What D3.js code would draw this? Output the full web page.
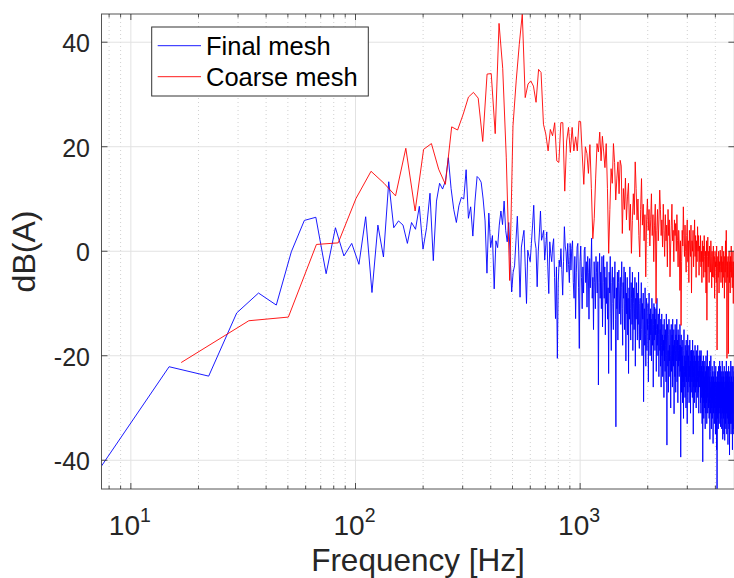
<!DOCTYPE html>
<html>
<head>
<meta charset="utf-8">
<script src="https://cdn.jsdelivr.net/npm/d3@7"></script>
<style>
  html, body { margin: 0; padding: 0; background: #fff; }
  svg { display: block; font-family: "Liberation Sans", Arial, Helvetica, sans-serif; }
</style>
</head>
<body>
<svg id="chart" width="734" height="578"></svg>
<script>
// Spectrum of the A-weighted level for the two meshes.
const seriesNames = ["Final mesh", "Coarse mesh"];
const seriesColors = ["#0000ff", "#ff0000"];

// Frequency resolution of each spectrum (Hz); bin k sits at k * step.
const fineStep = 7.4;
const coarseStep = 16.75;

// dB(A) per frequency bin, final mesh
const fineLevels = [
  -41.1, -22.1, -23.9, -11.8, -8.0, -10.3, -0.1, 5.9, 6.5, -4.3,
  4.5, -0.9, 1.5, -2.5, 6.6, -7.9, 5.0, -1.1, 13.3, 4.5,
  5.8, 5.0, 1.5, 5.5, 4.2, 8.6, 0.4, 4.5, 11.1, -1.8,
  9.6, 13.0, 11.9, 13.5, 17.9, 12.0, 8.0, 5.5, 8.7, 10.3,
  10.0, 15.6, 6.3, 8.5, 2.9, 9.6, 14.3, 13.9, 13.2, 10.0,
  5.8, -4.2, 7.3, 0.7, 3.0, -7.2, 2.0, 0.7, 5.0, 7.7,
  5.1, 9.6, 4.0, 1.8, 5.5, -1.0, -7.8, -4.0, -2.8, 2.0,
  6.7, 0.0, -8.8, 0.8, 2.5, 4.0, -3.0, -10.0, 0.2, -1.0,
  -2.0, 1.5, 5.0, 8.8, 2.0, 0.5, -6.8, 0.0, 3.5, 7.7,
  2.1, 3.0, 4.0, -1.7, 1.0, 3.7, -3.0, -8.1, 1.8, -0.5,
  -2.0, 1.0, 2.4, -5.0, -12.9, -3.0, -20.5, -6.0, -1.7, -3.0,
  0.5, -3.5, -8.4, -2.0, 4.7, 1.0, -0.1, -4.0, 1.5, -2.5,
  -6.0, 1.5,
  -3.6, 0.5, 2.0, -6, -9, -1, -12.9, -4, 0.8, 1.5,
  -7, -18.6, -2, 1.0, -5, -11, -3, -8, 0.2, 0.8,
  -6, -2, -10.7, -1, -4, -13, -1.4, -7, -3, 2.5,
  -9, -5, -15, -2, -6, -11, -1, -4, -8, -2,
  -25.6, -6, -0.4, -9,
  -4, -11, -1, -14.5, -6, -0.8, -9, -3, -16, -5,
  -10, -2, -13, -7, -23.4, -4, -8, -1, -12, -19,
  -6, -3, -10, -15, -5, -9, -2, -13, -33.6, -7,
  -11, -4, -17, -6, -3.6, -12, -8,
  -5, -14, -7, -2, -11, -18, -6, -9, -3, -15,
  -10, -4, -21, -8, -12, -5, -16, -9, -23.4, -7,
  -13, -3, -11, -17, -6, -9, -14, -4, -19, -10,
  -7, -15, -12, -5, -22, -9, -13, -6, -11, -17,
  -8, -14, -4, -16, -18.6, -10,
  -9, -17, -12, -6, -15, -20, -10, -13, -8, -28.8,
  -14, -11, -18, -7, -16, -22, -12, -9, -19, -13,
  -15, -10, -25, -14, -8, -17, -12, -20, -11, -16,
  -13, -21, -9, -15, -18, -12, -26, -14, -10, -17,
  -10.7, -19, -13, -16, -11, -23, -15, -9, -18, -14,
  -20, -12, -16, -24, -13, -11, -19,
  -15, -22, -13, -26, -18, -12, -20, -16, -24, -14,
  -19, -17, -28, -13, -21, -16, -23, -15, -18, -25,
  -12, -20, -37.1, -17, -14, -22, -19, -27, -16, -13,
  -21, -18, -24, -15, -20, -30, -17, -14, -23, -19,
  -16, -26, -13, -21, -18, -22, -15, -31.1, -20, -17,
  -24, -14, -19, -27, -16, -21, -18, -13, -25, -20,
  -17, -29, -15, -22, -19, -16, -24, -18, -21, -14,
  -23, -18, -39.4, -21, -16, -27, -18.3, -24, -20, -29,
  -17, -25, -22, -32, -19, -15, -26, -23, -20, -28,
  -18, -24, -21, -30, -17, -25, -22, -19, -33, -21,
  -16, -27, -23, -20, -25, -18, -29, -22, -24, -17,
  -26, -21, -31, -19, -23, -27, -18.9, -22, -25, -20,
  -28, -17, -24, -21, -35, -23, -19, -26, -22, -29,
  -20, -25, -18, -24, -27, -21, -23, -30, -19, -26,
  -22, -20, -28, -24, -18, -25, -21, -27, -23, -31,
  -20, -24, -22, -26, -19,
  -24, -20, -29, -23, -31, -19, -26, -22, -28, -25,
  -33, -21, -27, -40.3, -23, -29, -20, -26, -32, -22,
  -28, -24, -30, -21, -27, -34, -23, -25, -31, -20,
  -26, -29, -22, -33, -24, -28, -19, -27, -31, -25,
  -22, -28, -30, -22.1, -26, -32, -24, -29, -21, -36,
  -25, -27, -31, -23, -20, -28, -26, -34, -24, -30,
  -27, -22, -32, -25, -29, -23, -36.8, -27, -24, -31,
  -26, -29, -21, -33, -27, -25, -30, -23, -28, -35,
  -26, -22, -31, -29, -25, -28, -38, -24, -45.5, -27,
  -30, -23, -32, -26, -25, -34, -28, -22, -31, -27,
  -33, -25, -29, -21, -30,
  -26, -31, -22, -33.6, -28, -25, -32, -23, -30, -27,
  -34, -24, -29, -21, -31, -27, -36, -25, -30, -23,
  -32, -28, -24, -35, -26, -22, -31, -29, -36.2, -25,
  -30, -26, -33, -23, -28, -34, -25, -30, -21, -31,
  -27, -35, -24, -29, -32, -23, -30, -26, -37, -25,
  -28, -33, -22, -30, -27, -34, -24, -29, -39, -26,
  -23, -32, -28, -25, -33, -30, -21, -28, -35, -26,
  -31, -24, -33, -28, -22, -31, -27, -38, -25, -30,
  -29, -22, -34, -26, -31, -24, -35, -28, -23, -30, -27
];

// dB(A) per frequency bin, coarse mesh
const coarseLevels = [
  -21.3, -13.3, -12.6, 1.3, 1.6, 10.1, 15.3, 13.0, 10.6, 19.7,
  7.7, 19.5, 20.6, 15.7, 12.8, 23.8, 23.2, 26.2, 29.5, 30.4,
  29.3, 21.0, 33.9, 34.0, 22.5, 43.6, 35.0, 18.0, -5.6, 24.0,
  32.6, 39.6, 45.4, 29.4, 32.0, 32.6, 31.6, 28.5, 34.8, 34.2,
  24.3, 22.4, 19.2, 23.3, 22.1, 24.6, 17.3, 17.0, 24.6, 24.6,
  11.5, 21.1, 23.7, 18.9, 23.7, 19.2, 21.9, 19.2, 24.9, 24.8,
  18.6, 12.8, 20.0, 18.7, 14.9, 20.4, 12, 2.4, 6.3, 14,
  20.6, 19, 22.8, 17.3, 22, 19, 16, 20.6, 12, -0.4,
  8, 15.8, 13, 20.6, 17, 9.8, 14, 17.1, 11, 17.4,
  16.3, 3.4, 12, 8, 14, 6, 10.4, 13, 4, 9,
  -0.4, 5.9, 11, 7, 17.1, 12, 6, 10, 3, -1.1,
  8, 13.9, 5, 9, 2, 7, -4.9, 6, 10, 4,
  8, 1, 6, 11, 3, 7, -2, 5, 9, -10,
  4, 8, 2, 6, 11.7, 8, 3, 6, 0.8, 9,
  4, -1, 7, 2, 5, -3, 8, 3, 6, -4.9,
  1, 5, 9, 2, 4, -2, 6, 3, 5.3, 0,
  7, 2, -3, 4, 1, -7.5, 2, -14.2, -2, 4,
  1, 8.5, 3, -1, 5, 0, -4, 3, 6, -2,
  2, -6, 4, 1, -1, 5, -8, 2, 0, 4,
  -3, 1, 6, -1, 3, -5, 2, -2, 4.7, 0,
  3, -4.6, 1, -2, 3, -3, 0, -6, 2, -2,
  1, -5, 3, -1, -4, 0, -8, 2, -13.2, -1,
  2.7, -3, 0, -6, 1, -2, -4, 2, -1, -7,
  0, -4.9, -2, 1, -5, -1, -9, 0, -3, -2,
  -6, 1, -18.9, -3, -1, -5, 0, -8, -2, -4,
  0.2, -3, -6, -1, -4, 1, -7, -2, -5, 0,
  -3, -9, -1, -4, 2, -6, 4.0, -3, -20.5, -2,
  -5, -1, -19.6, -3, 0, -6, -2, -8, -1, -4,
  1, -5, -2, -7, -3, 0, -10, -2, -5, -3
];

// Axis ticks
const yTicks = [-40, -20, 0, 20, 40];
const xMajorTicks = [10, 100, 1000];
const xMajorExponents = ["1", "2", "3"];
const xMinorTicks = [8, 9, 20, 30, 40, 50, 60, 70, 80, 90,
                     200, 300, 400, 500, 600, 700, 800, 900,
                     2000, 3000, 4000];

const fine = fineLevels.map((v, i) => ({ f: (i + 1) * fineStep, v }));
const coarse = coarseLevels.map((v, i) => ({ f: (i + 1) * coarseStep, v }));
const series = [fine, coarse];

const plot = { left: 101.5, right: 734.4, top: 14, bottom: 489 };
const axisColor = "#262626";

const svg = d3.select("#chart");

const allPts = fine.concat(coarse);
const x = d3.scaleLog()
  .domain(d3.extent(allPts, d => d.f))
  .range([plot.left, plot.right]);
const y = d3.scaleLinear()
  .domain(d3.extent(allPts, d => d.v))
  .range([plot.bottom, plot.top]);

svg.append("defs").append("clipPath").attr("id", "plotClip")
  .append("rect")
  .attr("x", plot.left).attr("y", plot.top)
  .attr("width", plot.right - plot.left)
  .attr("height", plot.bottom - plot.top);

// Grid: solid major lines, dotted minor lines on the log axis
const grid = svg.append("g");
grid.selectAll("line.minor").data(xMinorTicks).join("line")
  .attr("x1", d => x(d)).attr("x2", d => x(d))
  .attr("y1", plot.top).attr("y2", plot.bottom)
  .attr("stroke", "#c4c4c4").attr("stroke-width", 0.8)
  .attr("stroke-dasharray", "1,3");
grid.selectAll("line.xmaj").data(xMajorTicks).join("line")
  .attr("x1", d => x(d)).attr("x2", d => x(d))
  .attr("y1", plot.top).attr("y2", plot.bottom)
  .attr("stroke", "#e2e2e2").attr("stroke-width", 1);
grid.selectAll("line.ymaj").data(yTicks).join("line")
  .attr("x1", plot.left).attr("x2", plot.right)
  .attr("y1", d => y(d)).attr("y2", d => y(d))
  .attr("stroke", "#e2e2e2").attr("stroke-width", 1);

// Spectra
const line = d3.line().x(d => x(d.f)).y(d => y(d.v));
svg.append("g").attr("clip-path", "url(#plotClip)")
  .selectAll("path").data(series).join("path")
  .attr("d", line)
  .attr("fill", "none")
  .attr("stroke", (d, i) => seriesColors[i])
  .attr("stroke-width", 0.9)
  .attr("stroke-linejoin", "round");

// Box and inward ticks
const axes = svg.append("g").attr("stroke", axisColor);
axes.append("rect")
  .attr("x", plot.left).attr("y", plot.top)
  .attr("width", plot.right - plot.left)
  .attr("height", plot.bottom - plot.top)
  .attr("fill", "none").attr("stroke-width", 1).attr("stroke", "#555");
const majLen = 6, minLen = 3.5;
[[xMajorTicks, majLen], [xMinorTicks, minLen]].forEach(([ticks, len]) => {
  ticks.forEach(t => {
    axes.append("line").attr("x1", x(t)).attr("x2", x(t))
      .attr("y1", plot.bottom).attr("y2", plot.bottom - len).attr("stroke-width", 0.8);
    axes.append("line").attr("x1", x(t)).attr("x2", x(t))
      .attr("y1", plot.top).attr("y2", plot.top + len).attr("stroke-width", 0.8);
  });
});
yTicks.forEach(t => {
  axes.append("line").attr("x1", plot.left).attr("x2", plot.left + majLen)
    .attr("y1", y(t)).attr("y2", y(t)).attr("stroke-width", 0.8);
  axes.append("line").attr("x1", plot.right - majLen).attr("x2", plot.right)
    .attr("y1", y(t)).attr("y2", y(t)).attr("stroke-width", 0.8);
});

// Tick labels
svg.append("g").selectAll("text").data(yTicks).join("text")
  .attr("x", 90).attr("y", d => y(d) + 10)
  .attr("text-anchor", "end")
  .attr("font-size", 25).attr("fill", axisColor)
  .text(d => String(d));

const xl = svg.append("g").selectAll("text").data(xMajorTicks).join("text")
  .attr("x", d => x(d) - 1).attr("y", 535)
  .attr("text-anchor", "middle")
  .attr("font-size", 28).attr("fill", axisColor);
xl.append("tspan").text("10");
xl.append("tspan").attr("dy", -13).attr("font-size", 19.5)
  .text((d, i) => xMajorExponents[i]);

// Axis titles
svg.append("text")
  .attr("x", (plot.left + plot.right) / 2).attr("y", 571)
  .attr("text-anchor", "middle").attr("font-size", 31.5).attr("fill", axisColor)
  .text("Frequency [Hz]");
svg.append("text")
  .attr("transform", `translate(35,${(plot.top + plot.bottom) / 2}) rotate(-90)`)
  .attr("text-anchor", "middle").attr("font-size", 32).attr("fill", axisColor)
  .text("dB(A)");

// Legend
const lg = svg.append("g");
lg.append("rect").attr("x", 151.7).attr("y", 27).attr("width", 216.6).attr("height", 69)
  .attr("fill", "#fff").attr("stroke", "#333").attr("stroke-width", 1);
seriesNames.forEach((name, i) => {
  const cy = 45.7 + i * 31;
  lg.append("line").attr("x1", 157.7).attr("x2", 201)
    .attr("y1", cy).attr("y2", cy)
    .attr("stroke", seriesColors[i]).attr("stroke-width", 0.9);
  lg.append("text").attr("x", 206).attr("y", cy + 9.3)
    .attr("font-size", 25.5).attr("fill", "#000").text(name);
});
</script>
</body>
</html>
